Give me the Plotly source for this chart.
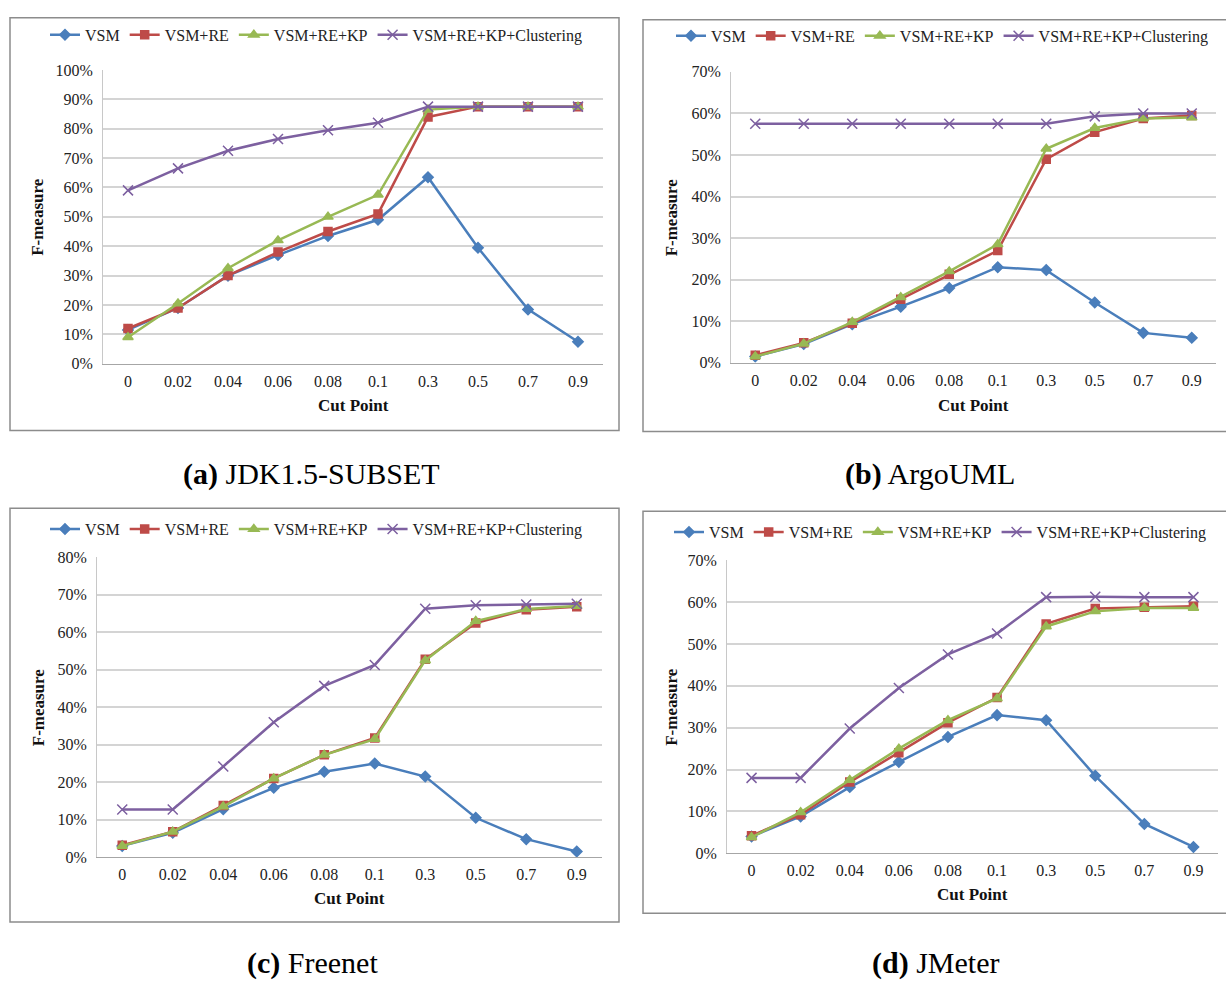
import plotly.graph_objects as go

W, H = 1226, 988

cut_points = ["0", "0.02", "0.04", "0.06", "0.08", "0.1", "0.3", "0.5", "0.7", "0.9"]
series_names = ["VSM", "VSM+RE", "VSM+RE+KP", "VSM+RE+KP+Clustering"]

# (a) JDK1.5-SUBSET
jdk_vsm = [11.5, 19, 30, 37, 43.5, 49, 63.5, 39.5, 18.5, 7.5]
jdk_re = [12, 19, 30, 38, 45, 51, 84, 87.5, 87.5, 87.5]
jdk_kp = [9, 20.5, 32.5, 42, 50, 57.5, 86.5, 87.5, 87.5, 87.5]
jdk_cl = [59, 66.5, 72.5, 76.5, 79.5, 82, 87.5, 87.5, 87.5, 87.5]

# (b) ArgoUML
argo_vsm = [1.5, 4.5, 9.3, 13.5, 18, 23, 22.3, 14.5, 7.2, 6]
argo_re = [1.8, 4.8, 9.5, 15.3, 21.3, 27, 49, 55.5, 58.8, 59.5]
argo_kp = [1.5, 4.6, 9.8, 15.8, 22, 28.5, 51.5, 56.5, 58.8, 59]
argo_cl = [57.5, 57.5, 57.5, 57.5, 57.5, 57.5, 57.5, 59.3, 60, 60]

# (c) Freenet
free_vsm = [3, 6.5, 12.8, 18.5, 22.8, 25, 21.5, 10.5, 4.8, 1.5]
free_re = [3.2, 6.8, 13.8, 21, 27.3, 31.8, 52.8, 62.5, 66, 66.8]
free_kp = [3, 6.8, 13.5, 21, 27.3, 31.5, 52.5, 63, 66.2, 67]
free_cl = [12.7, 12.7, 24.2, 36, 45.7, 51.3, 66.3, 67.2, 67.4, 67.6]

# (d) JMeter
jm_vsm = [4, 8.8, 15.8, 21.8, 27.8, 33, 31.8, 18.5, 7, 1.5]
jm_re = [4.2, 9.2, 17, 24, 31.2, 37.2, 54.8, 58.5, 58.8, 59]
jm_kp = [3.8, 9.8, 17.5, 25, 31.8, 37, 54.2, 57.8, 58.6, 58.6]
jm_cl = [18, 18, 29.8, 39.5, 47.5, 52.5, 61.2, 61.3, 61.2, 61.2]

captions_bold = ["(a)", "(b)", "(c)", "(d)"]
captions_text = ["JDK1.5-SUBSET", "ArgoUML", "Freenet", "JMeter"]

colors = ["#4A7EBB", "#BE4B48", "#98B954", "#7D60A0"]
symbols = ["diamond", "square", "triangle-up", "x-thin"]
msizes = [8, 8, 9, 10]

FONT = "Liberation Serif, Times New Roman, serif"

panels = [
    dict(data=[jdk_vsm, jdk_re, jdk_kp, jdk_cl], x=(103, 603), y0=362, y1=63, ymax=100,
         frame=(10, 10, 619, 430), legtop=10, legx=316, ytitle_x=38, xtitle_y=404,
         cap=(311, 474)),
    dict(data=[argo_vsm, argo_re, argo_kp, argo_cl], x=(731, 1216), y0=361, y1=65, ymax=70,
         frame=(643, 12, 1240, 431), legtop=11, legx=942, ytitle_x=671, xtitle_y=404,
         cap=(930, 474)),
    dict(data=[free_vsm, free_re, free_kp, free_cl], x=(97, 602), y0=864, y1=559, ymax=80,
         frame=(10, 509, 619, 930), legtop=513, legx=316, ytitle_x=38, xtitle_y=906,
         cap=(313, 972)),
    dict(data=[jm_vsm, jm_re, jm_kp, jm_cl], x=(727, 1218), y0=860, y1=562, ymax=70,
         frame=(643, 512, 1240, 921), legtop=516, legx=940, ytitle_x=672, xtitle_y=902,
         cap=(935, 972)),
]

def px(x):
    return x / W

def py(y):
    return 1 - y / H

fig = go.Figure()
shapes = []
annotations = []
layout = {}

for i, p in enumerate(panels):
    k = "" if i == 0 else str(i + 1)
    leg = "legend" if i == 0 else f"legend{i + 1}"
    for j, name in enumerate(series_names):
        fig.add_trace(go.Scatter(
            x=cut_points, y=p["data"][j], name=name, mode="lines+markers",
            xaxis="x" + k, yaxis="y" + k, legend=leg,
            line=dict(color=colors[j], width=2.5),
            marker=dict(symbol=symbols[j], size=msizes[j], color=colors[j],
                        line=dict(color=colors[j], width=1.5)),
        ))
    layout["xaxis" + k] = dict(
        domain=[px(p["x"][0]), px(p["x"][1])], anchor="y" + k, type="category",
        range=[-0.5, 9.5], showgrid=False, showline=True, linecolor="#A6A6A6",
        linewidth=1, ticks="", tickfont=dict(family=FONT, size=16, color="#222"),
        ticklabelstandoff=3, fixedrange=True,
    )
    layout["yaxis" + k] = dict(
        domain=[py(p["y0"]), py(p["y1"])], anchor="x" + k, range=[0, p["ymax"]],
        dtick=10, ticksuffix="%", showgrid=True, gridcolor="#D4D4D4", gridwidth=1.5,
        showline=True, linecolor="#C8C8C8", zeroline=False, ticks="",
        tickfont=dict(family=FONT, size=16, color="#222"), ticklabelstandoff=6,
        fixedrange=True,
    )
    layout[leg] = dict(
        orientation="h", x=px(p["legx"]), y=py(p["legtop"]), xanchor="center",
        yanchor="top", font=dict(family=FONT, size=16, color="#222"),
        bgcolor="rgba(0,0,0,0)", itemwidth=30, tracegroupgap=0,
        itemclick=False, itemdoubleclick=False,
    )
    fx0, fy0, fx1, fy1 = p["frame"]
    shapes.append(dict(type="rect", xref="paper", yref="paper",
                       x0=px(fx0), x1=px(fx1), y0=py(fy0), y1=py(fy1),
                       line=dict(color="#8C8C8C", width=1.5), layer="below"))
    annotations.append(dict(text="<b>F-measure</b>", xref="paper", yref="paper",
                            x=px(p["ytitle_x"]), y=py((p["y0"] + p["y1"]) / 2),
                            textangle=-90, showarrow=False, xanchor="center", yanchor="middle",
                            font=dict(family=FONT, size=17, color="#111")))
    annotations.append(dict(text="<b>Cut Point</b>", xref="paper", yref="paper",
                            x=px((p["x"][0] + p["x"][1]) / 2), y=py(p["xtitle_y"]),
                            showarrow=False, xanchor="center", yanchor="middle",
                            font=dict(family=FONT, size=17, color="#111")))
    annotations.append(dict(text=f"<b>{captions_bold[i]}</b> {captions_text[i]}",
                            xref="paper", yref="paper",
                            x=px(p["cap"][0]), y=py(p["cap"][1]),
                            showarrow=False, xanchor="center", yanchor="middle",
                            font=dict(family=FONT, size=30, color="#000")))

fig.update_layout(
    width=W, height=H, margin=dict(l=0, r=0, t=0, b=0),
    paper_bgcolor="white", plot_bgcolor="white",
    shapes=shapes, annotations=annotations, showlegend=True,
    **layout,
)

fig.write_html("out.html")
